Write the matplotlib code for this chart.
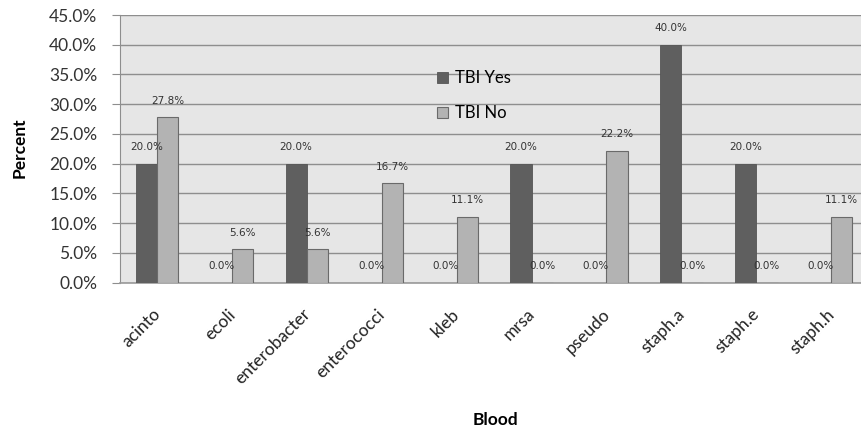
import matplotlib.pyplot as plt
import matplotlib.transforms as mtransforms
import numpy as np

categories = ['acinto', 'ecoli', 'enterobacter', 'enterococci', 'kleb',
              'mrsa', 'pseudo', 'staph.a', 'staph.e', 'staph.h']
tbi_yes = [20.0, 0.0, 20.0, 0.0, 0.0, 20.0, 0.0, 40.0, 20.0, 0.0]
tbi_no = [27.8, 5.6, 5.6, 16.7, 11.1, 0.0, 22.2, 0.0, 0.0, 11.1]
y_ticks = [0, 5, 10, 15, 20, 25, 30, 35, 40, 45]

plt.rcParams['font.family'] = ['Lato', 'DejaVu Sans']

fig = plt.figure(figsize=(8.61, 4.32), dpi=100)
# plot area runs slightly past the right edge of the figure
ax = fig.add_axes([119.6 / 861, 1 - 282.5 / 432, 749 / 861, 267.5 / 432])
ax.set_facecolor('#e6e6e6')

x = np.arange(len(categories))
w = 0.285
bars_yes = ax.bar(x - w / 2, tbi_yes, w, color='#5f5f5f', edgecolor='#555555',
                  linewidth=0.6, label='TBI Yes', zorder=3)
bars_no = ax.bar(x + w / 2, tbi_no, w, color='#b3b3b3', edgecolor='#6a6a6a',
                 linewidth=0.8, label='TBI No', zorder=3)

for bars, vals in [(bars_yes, tbi_yes), (bars_no, tbi_no)]:
    for b, v in zip(bars, vals):
        ax.annotate(f'{v:.1f}%', (b.get_x() + b.get_width() / 2, v),
                    xytext=(0, 12), textcoords='offset points',
                    ha='center', va='center', fontsize=7.5,
                    family='DejaVu Sans', color='#333333', zorder=4)

ax.set_xlim(-0.5, len(categories) - 0.5)
ax.set_ylim(0, 45)
ax.set_yticks(y_ticks)
ax.set_yticklabels([f'{t:.1f}%' for t in y_ticks], fontsize=12.5, color='#333333')
ax.yaxis.grid(True, color='#8e8e8e', linewidth=1.0, zorder=1)
ax.tick_params(axis='y', length=6, color='#8e8e8e', pad=10)
ax.tick_params(axis='x', length=0, pad=17)

ax.set_xticks(x)
ax.set_xticklabels(categories, rotation=45, ha='right', rotation_mode='anchor',
                   fontsize=12.5, color='#222222')
# nudge rotated labels a little to the left
nudge = mtransforms.ScaledTranslation(-5 / 100, 0, fig.dpi_scale_trans)
for lbl in ax.get_xticklabels():
    lbl.set_transform(lbl.get_transform() + nudge)

for side in ['top', 'right']:
    ax.spines[side].set_visible(False)
ax.spines['left'].set_color('#8e8e8e')
ax.spines['bottom'].set_color('#9a9a9a')
ax.spines['bottom'].set_linewidth(1.2)

# axis titles placed in figure pixels
fig.text(20 / 861, 1 - 148 / 432, 'Percent', rotation=90, ha='center',
         va='center', fontsize=12.5, fontweight='bold')
fig.text(495 / 861, 1 - 420 / 432, 'Blood', ha='center', va='center',
         fontsize=12.5, fontweight='bold')

ax.legend(loc='center left', bbox_to_anchor=(0.4238, 0.698), frameon=False,
          fontsize=12, handlelength=0.66, handleheight=0.66, handletextpad=0.4,
          labelspacing=1.15, borderpad=0, borderaxespad=0)

fig.savefig('out.png', dpi=100)
